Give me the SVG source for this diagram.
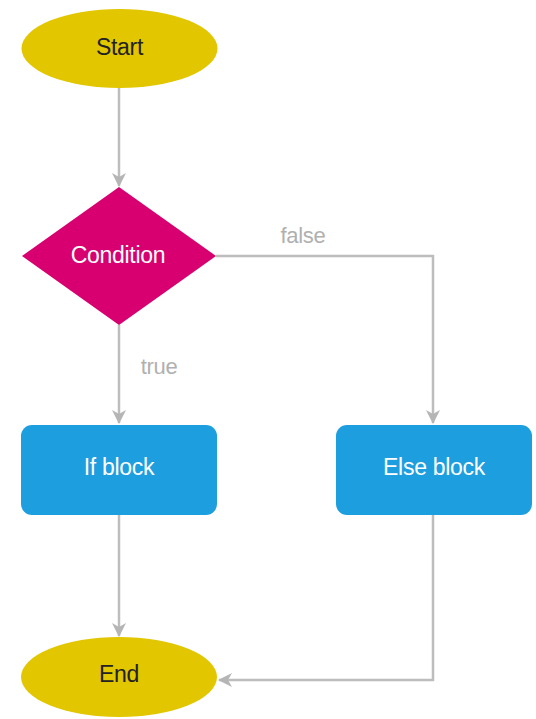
<svg xmlns="http://www.w3.org/2000/svg" width="536" height="719" viewBox="0 0 536 719">
<style>
.lbl{font-family:"Liberation Sans",Arial,sans-serif;font-size:23px;text-anchor:middle;dominant-baseline:central;letter-spacing:-0.3px}
.edge{fill:none;stroke:#bdbdbd;stroke-width:2.5}
.elab{font-family:"Liberation Sans",Arial,sans-serif;font-size:22px;fill:#b0b0b0;text-anchor:middle;dominant-baseline:central;letter-spacing:-0.3px}
</style>
<defs>
<marker id="arr" viewBox="0 0 14 14" refX="13" refY="7" markerWidth="14" markerHeight="14" markerUnits="userSpaceOnUse" orient="auto">
<path d="M0,0 L14,7 L0,14 L4,7 z" fill="#b5b5b5"/>
</marker>
</defs>
<rect width="536" height="719" fill="#fff"/>
<g id="connectors">
<path class="edge" d="M119,88 V186" marker-end="url(#arr)"/>
<path class="edge" d="M216,256 H433 V423" marker-end="url(#arr)"/>
<text class="elab" x="303" y="235">false</text>
<path class="edge" d="M119,325 V423" marker-end="url(#arr)"/>
<text class="elab" x="159" y="366">true</text>
<path class="edge" d="M119,515 V636" marker-end="url(#arr)"/>
<path class="edge" d="M433,515 V680 H219" marker-end="url(#arr)"/>
</g>
<g id="start">
<ellipse cx="119.5" cy="48.5" rx="98" ry="39.5" fill="#e1c600"/>
<text class="lbl" x="119.5" y="47" fill="#222">Start</text>
</g>
<g id="condition">
<polygon points="119,187 216,256 119,325 22,256" fill="#d80070"/>
<text class="lbl" x="118" y="255" fill="#fff">Condition</text>
</g>
<g id="ifblock">
<rect x="21" y="425" width="196" height="90" rx="11" fill="#1c9edf"/>
<text class="lbl" x="119" y="467" fill="#fff">If block</text>
</g>
<g id="elseblock">
<rect x="336" y="425" width="196" height="90" rx="11" fill="#1c9edf"/>
<text class="lbl" x="434" y="467" fill="#fff">Else block</text>
</g>
<g id="end">
<ellipse cx="119" cy="677" rx="98" ry="40" fill="#e1c600"/>
<text class="lbl" x="119" y="674" fill="#222">End</text>
</g>
</svg>
